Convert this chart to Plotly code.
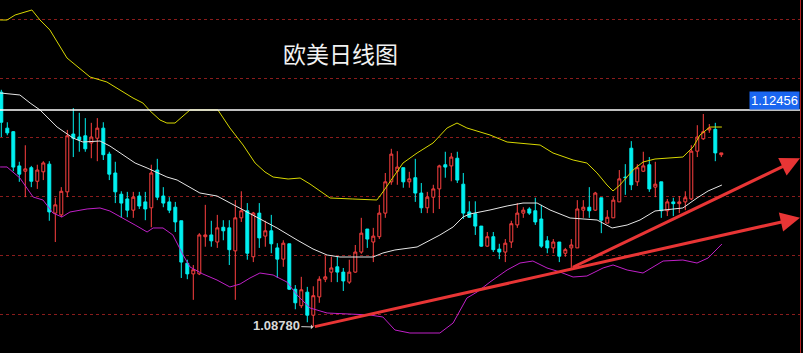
import plotly.graph_objects as go

# ---------------- data (EUR/USD daily) ----------------
opens = [1.1276,1.1215,1.1209,1.1151,1.1142,1.1148,1.1125,1.1141,1.1154,1.1071,
         1.1068,1.1107,1.1205,1.1200,1.1202,1.1190,1.1198,1.1215,1.1171,1.1139,
         1.1103,1.1095,1.1076,1.1100,1.1090,1.1080,1.1144,1.1100,1.1090,1.1081,
         1.1058,1.0986,1.0968,1.0968,1.1031,1.1034,1.1022,1.1047,1.1046,1.1007,
         1.1063,1.1075,1.0997,1.1071,1.1032,1.1041,1.1012,1.0993,1.1019,1.0942,
         1.0914,1.0937,1.0898,1.0929,1.0959,1.0971,1.0980,1.0971,1.0954,1.0971,
         1.1005,1.1044,1.1022,1.1031,1.1071,1.1124,1.1142,1.1148,1.1124,1.1131,
         1.1105,1.1080,1.1098,1.1112,1.1153,1.1151,1.1164,1.1120,1.1073,1.1070,
         1.1049,1.1015,1.1031,1.1010,1.1005,1.1022,1.1051,1.1071,1.1078,1.1075,
         1.1061,1.1024,1.1012,1.1022,1.1003,1.1012,1.1012,1.1076,1.1081,1.1076,
         1.1097,1.1054,1.1063,1.1090,1.1132,1.1181,1.1124,1.1142,1.1153,1.1115,
         1.1124,1.1075,1.1090,1.1087,1.1090,1.1095,1.1176,1.1197,1.1212,1.1213,
         1.1170]
highs = [1.1280,1.1225,1.1210,1.1158,1.1186,1.1151,1.1153,1.1159,1.1159,1.1097,
         1.1115,1.1212,1.1249,1.1241,1.1232,1.1224,1.1232,1.1225,1.1175,1.1158,
         1.1108,1.1107,1.1107,1.1107,1.1107,1.1153,1.1163,1.1115,1.1098,1.1090,
         1.1058,1.0992,1.0983,1.1037,1.1085,1.1058,1.1068,1.1059,1.1059,1.1093,
         1.1108,1.1088,1.1073,1.1088,1.1058,1.1068,1.1020,1.1025,1.1019,1.0949,
         1.0963,1.0946,1.0947,1.0964,1.0998,1.0997,1.0998,1.0978,1.0992,1.1017,
         1.1063,1.1044,1.1046,1.1085,1.1139,1.1180,1.1176,1.1148,1.1141,1.1163,
         1.1122,1.1107,1.1119,1.1153,1.1175,1.1173,1.1175,1.1139,1.1091,1.1091,
         1.1049,1.1039,1.1039,1.1019,1.1027,1.1058,1.1088,1.1081,1.1081,1.1097,
         1.1085,1.1032,1.1027,1.1022,1.1012,1.1027,1.1093,1.1093,1.1115,1.1107,
         1.1097,1.1076,1.1098,1.1144,1.1154,1.1193,1.1154,1.1175,1.1166,1.1158,
         1.1124,1.1095,1.1097,1.1100,1.1108,1.1186,1.1220,1.1239,1.1222,1.1224,
         1.1173]
lows = [1.1200,1.1203,1.1142,1.1124,1.1098,1.1115,1.1112,1.1127,1.1058,1.1022,
        1.1064,1.1098,1.1166,1.1175,1.1175,1.1164,1.1159,1.1161,1.1127,1.1088,
        1.1063,1.1064,1.1063,1.1078,1.1059,1.1047,1.1093,1.1081,1.1071,1.1039,
        1.0961,1.0959,1.0924,1.0966,1.1014,1.1014,1.1012,1.1025,1.0983,1.0924,
        1.1056,1.0992,1.0988,1.1012,1.1014,1.1003,1.0961,1.0980,1.0941,1.0908,
        1.0910,1.0886,1.0878,1.0919,1.0954,1.0954,1.0954,1.0939,1.0951,1.0970,
        1.1002,1.1012,1.0988,1.1027,1.1063,1.1119,1.1119,1.1114,1.1114,1.1090,
        1.1071,1.1071,1.1071,1.1078,1.1131,1.1125,1.1122,1.1061,1.1063,1.1034,
        1.1014,1.1014,1.1005,1.0993,1.0988,1.1012,1.1046,1.1063,1.1068,1.1051,
        1.1012,1.1003,1.1003,1.0988,1.0997,1.0978,1.1012,1.1063,1.1063,1.1075,
        1.1037,1.1054,1.1063,1.1090,1.1102,1.1110,1.1117,1.1141,1.1107,1.1098,
        1.1063,1.1066,1.1066,1.1071,1.1076,1.1093,1.1166,1.1195,1.1207,1.1159,
        1.1166]
closes = [1.1225,1.1207,1.1149,1.1137,1.1146,1.1125,1.1144,1.1156,1.1073,1.1085,
          1.1108,1.1202,1.1198,1.1195,1.1180,1.1200,1.1215,1.1170,1.1137,1.1107,
          1.1088,1.1076,1.1098,1.1083,1.1078,1.1139,1.1098,1.1088,1.1076,1.1056,
          1.0988,1.0968,1.0975,1.1034,1.1034,1.1024,1.1046,1.1041,1.1009,1.1063,
          1.1075,1.1003,1.1071,1.1029,1.1041,1.1019,1.0993,1.1020,1.0942,1.0919,
          1.0941,1.0898,1.0931,1.0959,1.0963,1.0978,1.0971,1.0956,1.0971,1.1005,
          1.1037,1.1027,1.1032,1.1071,1.1124,1.1171,1.1149,1.1124,1.1129,1.1105,
          1.1080,1.1098,1.1112,1.1151,1.1149,1.1166,1.1127,1.1071,1.1064,1.1049,
          1.1015,1.1031,1.1009,1.1005,1.1020,1.1053,1.1071,1.1076,1.1071,1.1056,
          1.1015,1.1012,1.1022,1.0998,1.1009,1.1017,1.1078,1.1081,1.1075,1.1105,
          1.1059,1.1064,1.1093,1.1129,1.1131,1.1119,1.1148,1.1151,1.1112,1.1120,
          1.1075,1.1090,1.1087,1.1090,1.1097,1.1176,1.1200,1.1209,1.1215,1.1173,
          1.1173]
days = list(range(len(opens)))

# Bollinger band lines (candle index, price)
upper_idx = [-0.2,0.95,2.3,5.1,6.45,8.1,10.95,14.8,17.6,19.8,21.95,23.6,24.8,26.45,27.6,28.95,
             31.45,36.1,38.1,40.3,42.3,43.95,45.3,47.8,49.8,51.45,54.8,58.6,62.6,63.6,65.3,
             66.95,69.3,71.95,74.3,75.95,77.6,81.45,84.3,86.45,89.8,91.95,95.3,97.6,99.3,
             100.95,101.95,103.1,105.3,106.95,108.95,113.6,115.3,116.45,118.1,120.1]
upper_val = [1.13983,1.13983,1.14068,1.14153,1.13983,1.13814,1.13339,1.13017,1.12932,1.12797,
             1.12661,1.12576,1.12441,1.12288,1.12237,1.12237,1.12458,1.12458,1.12153,1.11864,
             1.11559,1.11407,1.11322,1.11288,1.11305,1.11203,1.10966,1.10949,1.10932,1.11068,
             1.11322,1.11559,1.11729,1.11898,1.12153,1.12237,1.12153,1.12034,1.11915,1.11898,
             1.11864,1.11729,1.11610,1.11559,1.11390,1.11186,1.11085,1.11186,1.11441,1.11576,
             1.11627,1.11661,1.11830,1.12034,1.12169,1.12169]
mid_idx = [-0.2,3.1,4.8,6.45,9.3,11.95,13.6,16.45,18.1,20.3,22.3,24.3,27.6,29.3,33.1,35.95,
           39.3,42.6,45.95,49.3,51.95,54.3,56.45,61.95,63.6,65.6,69.3,73.1,75.3,76.95,78.1,
           81.45,84.3,86.95,89.3,91.45,94.8,99.3,101.8,104.3,106.45,108.95,110.3,113.6,
           115.95,117.8,120.1]
mid_val = [1.12746,1.12712,1.12576,1.12458,1.12169,1.11983,1.11915,1.11932,1.11847,1.11695,
           1.11559,1.11475,1.11322,1.11271,1.11051,1.11000,1.10814,1.10644,1.10458,1.10254,
           1.10102,1.10000,1.09966,1.09966,1.10034,1.10085,1.10136,1.10339,1.10475,1.10644,
           1.10695,1.10763,1.10831,1.10881,1.10881,1.10763,1.10627,1.10593,1.10458,1.10508,
           1.10593,1.10746,1.10763,1.10797,1.10966,1.11085,1.11186]
lower_idx = [-0.2,0.95,3.1,5.3,6.95,8.6,10.1,11.45,14.3,16.45,18.1,20.3,22.3,24.3,25.3,26.95,
             28.6,30.3,31.45,33.6,35.95,38.1,39.8,41.45,43.1,45.3,47.6,49.3,51.45,54.3,57.6,
             61.45,63.6,65.6,68.1,73.1,75.3,77.6,79.3,81.45,84.3,86.45,88.6,90.95,93.1,95.3,
             97.6,100.3,101.95,104.3,106.95,108.95,110.3,113.6,115.95,117.8,120.1]
lower_val = [1.11492,1.11492,1.11305,1.10983,1.10932,1.10712,1.10644,1.10729,1.10780,1.10797,
             1.10746,1.10627,1.10508,1.10390,1.10458,1.10458,1.10339,1.10000,1.09797,1.09678,
             1.09576,1.09458,1.09508,1.09610,1.09695,1.09661,1.09542,1.09322,1.09102,1.09017,
             1.09000,1.08983,1.08949,1.08729,1.08678,1.08678,1.08847,1.09271,1.09373,1.09542,
             1.09746,1.09864,1.09898,1.09780,1.09712,1.09627,1.09644,1.09780,1.09831,1.09746,
             1.09695,1.09814,1.09898,1.09915,1.09864,1.09949,1.10186]

resistance = 1.12456
low_label = 1.08780
low_day = 52
# trend arrows: start candle (at its low) -> end price at right edge
trend_start_days = [52, 95]
trend_end_prices = [1.1063, 1.1164]
title_text = "欧美日线图"

# ---------------- figure ----------------
X0 = -0.2167
X1 = X0 + 800 / 6.0
Y0, Y1 = 1.08339, 1.14322

fig = go.Figure()

fig.add_trace(go.Scatter(x=upper_idx, y=upper_val, mode="lines",
                         line=dict(color="#d8d800", width=1), hoverinfo="skip"))
fig.add_trace(go.Scatter(x=mid_idx, y=mid_val, mode="lines",
                         line=dict(color="#e6e6e6", width=1), hoverinfo="skip"))
fig.add_trace(go.Scatter(x=lower_idx, y=lower_val, mode="lines",
                         line=dict(color="#c020c8", width=1), hoverinfo="skip"))

fig.add_trace(go.Candlestick(
    x=days, open=opens, high=highs, low=lows, close=closes,
    increasing=dict(line=dict(color="#ff4040", width=1), fillcolor="#000000"),
    decreasing=dict(line=dict(color="#00f0f0", width=1), fillcolor="#00f0f0"),
    whiskerwidth=0, hoverinfo="skip"))

fig.add_shape(type="line", xref="paper", yref="y", x0=0, x1=1,
              y0=resistance, y1=resistance, line=dict(color="#ffffff", width=1.5))

annotations = [
    dict(xref="paper", yref="paper", x=342 / 803, y=1 - 53 / 353, text=title_text,
         showarrow=False, xanchor="center", yanchor="middle",
         font=dict(family="Noto Sans CJK SC", size=23, color="#f2f2f2")),
    dict(xref="paper", yref="y", x=1, y=resistance, text="1.12456", showarrow=False,
         xanchor="right", yanchor="bottom", bgcolor="#1a66f0", borderpad=1,
         font=dict(family="Liberation Sans", size=13, color="#ffffff")),
    dict(x=low_day, y=low_label, xref="x", yref="y", text="<b>1.08780</b>",
         showarrow=True, ax=-37, ay=-1, arrowhead=1, arrowsize=0.8, arrowwidth=1,
         arrowcolor="#d0d0d0",
         font=dict(family="Liberation Sans", size=13, color="#d8d8d8")),
]
for d0, pend in zip(trend_start_days, trend_end_prices):
    annotations.append(dict(
        x=X1, y=pend, ax=d0, ay=lows[d0], xref="x", yref="y", axref="x", ayref="y",
        text="", showarrow=True, arrowhead=2, arrowsize=1.3, arrowwidth=3,
        arrowcolor="#e83535"))

fig.update_layout(
    width=803, height=353,
    margin=dict(l=0, r=3, t=0, b=0),
    paper_bgcolor="#000000", plot_bgcolor="#000000",
    showlegend=False,
    annotations=annotations,
    xaxis=dict(range=[X0, X1], showgrid=False, zeroline=False, showticklabels=False,
               rangeslider=dict(visible=False), fixedrange=True),
    yaxis=dict(range=[Y0, Y1], side="right", showgrid=True, gridcolor="#8a1c1c",
               griddash="dot", gridwidth=1, dtick=0.01, tick0=1.0, showticklabels=False,
               zeroline=False, showline=True, linecolor="#b02020", linewidth=1,
               fixedrange=True),
)

fig.write_html("out.html", config={"displayModeBar": False})
